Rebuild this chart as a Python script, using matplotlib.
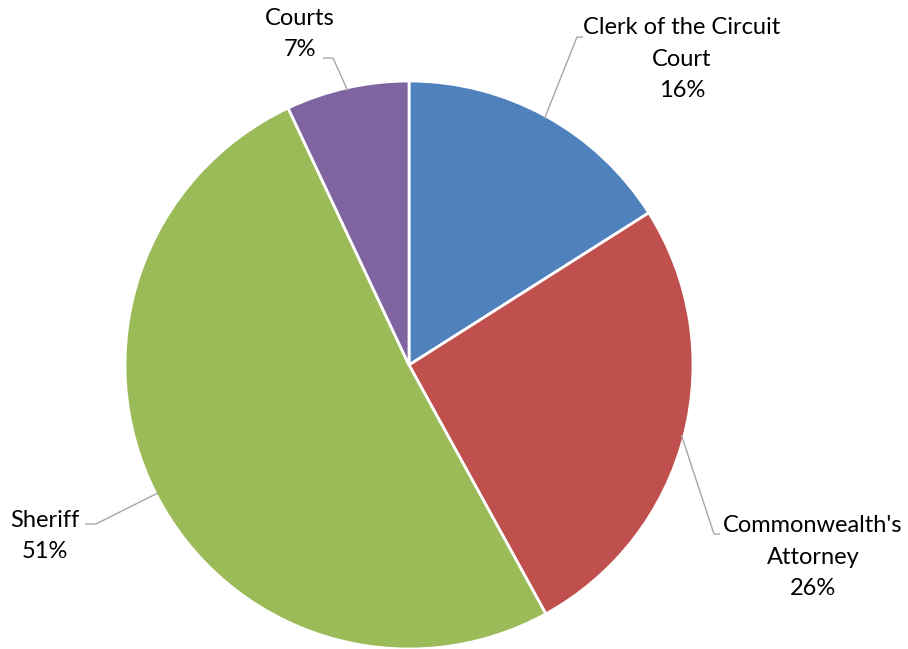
import matplotlib.pyplot as plt
import numpy as np

labels = ["Clerk of the Circuit\nCourt", "Commonwealth's\nAttorney", "Sheriff", "Courts"]
shares = [16, 26, 51, 7]
colors = ["#4F81BD", "#C0504D", "#9BBB59", "#8064A2"]

# label anchor points (pixel positions on the 908x649 canvas) and leader elbows
label_px = [(682, 59), (813, 557), (45, 536), (300, 34)]
elbow_px = [(577, 37), (714, 534), (96, 524), (333, 58)]
tail_px = [(583, 37), (720, 534), (85, 524), (323, 58)]

W, H = 908, 649
cx, cy, R = 409, 365, 284

def to_data(p):
    return ((p[0] - cx) / R, (cy - p[1]) / R)

plt.rcParams['font.family'] = ['Lato', 'DejaVu Sans']

fig = plt.figure(figsize=(W / 100, H / 100), dpi=100)
ax = fig.add_axes([0, 0, 1, 1])

wedges, _ = ax.pie(shares, colors=colors, startangle=90, counterclock=False,
                   radius=1, center=(0, 0), frame=True,
                   wedgeprops=dict(edgecolor='white', linewidth=2))
ax.set_xlim(-cx / R, (W - cx) / R)
ax.set_ylim(-(H - cy) / R, cy / R)
ax.set_aspect('equal')
ax.axis('off')

total = sum(shares)
start = 0.0
for i, (lab, v) in enumerate(zip(labels, shares)):
    mid = np.deg2rad((start + v / 2) / total * 360)
    start += v
    edge = (np.sin(mid) * 0.99, np.cos(mid) * 0.99)
    ex, ey = to_data(elbow_px[i])
    tx, ty = to_data(tail_px[i])
    ax.plot([edge[0], ex, tx], [edge[1], ey, ty], color='#a6a6a6', lw=1,
            solid_capstyle='butt')
    lx, ly = to_data(label_px[i])
    ax.text(lx, ly, f"{lab}\n{v}%", ha='center', va='center',
            multialignment='center', fontsize=17, color='black',
            linespacing=1.6)

fig.savefig("out.png", dpi=100)
